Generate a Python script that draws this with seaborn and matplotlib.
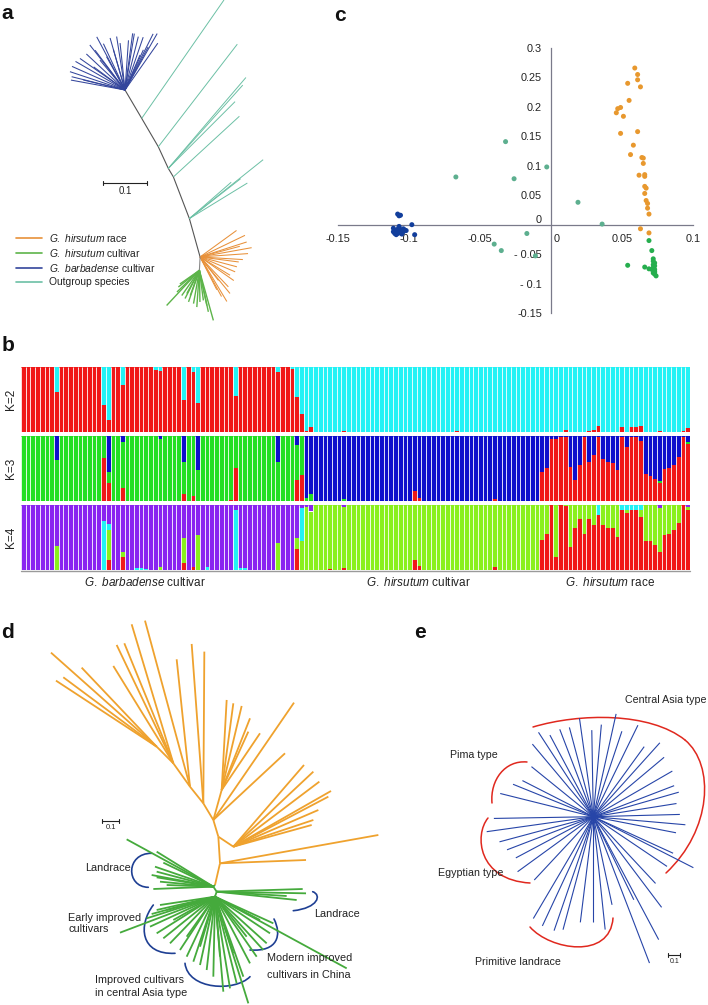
import numpy as np
import pandas as pd
import seaborn as sns
import matplotlib.pyplot as plt
import matplotlib.transforms as mtransforms
from matplotlib.collections import LineCollection
from matplotlib.path import Path
from matplotlib.patches import PathPatch

# ---------------- data ----------------
# panel a: unrooted tree (angles in degrees, branch lengths in substitutions/site)
A_BACKBONE_ANGLE = [-59.5, -59.7, -65.2, -59.2, -69.0, -74.4]
A_BACKBONE_LEN = [0.076, 0.076, 0.055, 0.023, 0.103, 0.092]
A_OUT_NODE = [1, 2, 3, 3, 3, 4, 5, 5, 5, 5]
A_OUT_ANGLE = [55.2, 52.4, 49.5, 48.2, 45.0, 42.6, 38.6, 31.5, 37.9, 41.0]
A_OUT_LEN = [0.333, 0.299, 0.276, 0.258, 0.218, 0.207, 0.218, 0.157, 0.150, 0.128]
A_BARB_ANGLE = [55, 60.3, 63.4, 61.7, 65.4, 66.8, 71, 76, 80.6, 82.3, 86, 96, 98.9, 106, 106,
                115, 118, 119, 127, 128, 130, 137, 143.6, 145, 150, 156, 161.6, 166, 166.5, 169.6]
A_BARB_LEN = [0.132, 0.150, 0.145, 0.113, 0.102, 0.088, 0.129, 0.127, 0.132, 0.132, 0.115, 0.109,
              0.125, 0.125, 0.097, 0.118, 0.139, 0.088, 0.115, 0.132, 0.090, 0.122, 0.090, 0.127,
              0.132, 0.134, 0.134, 0.127, 0.099, 0.127]
A_RACE_ANGLE = [36, 25.7, 17.8, 15, 10.2, 4, -3.5, -7.4, -15, -23, -31.4, -35, -46.6, -52, -50.7, -59, -61.6, -63]
A_RACE_LEN = [0.104, 0.115, 0.113, 0.095, 0.121, 0.111, 0.099, 0.090, 0.088, 0.088, 0.081, 0.095,
              0.095, 0.069, 0.109, 0.120, 0.104, 0.085]
A_CULT_STEM = (-93, 0.031)
A_CULT_ANGLE = [-133, -141.6, -145, -136, -125, -117, -118.5, -110, -109, -100, -94, -89, -82.4, -78, -77.8, -74.4]
A_CULT_LEN = [0.111, 0.062, 0.055, 0.072, 0.071, 0.073, 0.061, 0.062, 0.077, 0.078, 0.085, 0.073,
              0.070, 0.083, 0.098, 0.120]
A_LEGEND = ["$\\mathit{G.\\ hirsutum}$ race", "$\\mathit{G.\\ hirsutum}$ cultivar",
            "$\\mathit{G.\\ barbadense}$ cultivar", "Outgroup species"]

# panel c: PCA
C_RACE_X = [0.059, 0.061, 0.061, 0.063, 0.054, 0.055, 0.049, 0.047, 0.046, 0.051, 0.061, 0.049, 0.058,
            0.056, 0.064, 0.065, 0.065, 0.062, 0.066, 0.066, 0.066, 0.067, 0.066, 0.067, 0.068, 0.068,
            0.069, 0.063, 0.069]
C_RACE_Y = [0.266, 0.255, 0.246, 0.234, 0.240, 0.211, 0.199, 0.197, 0.190, 0.184, 0.158, 0.155, 0.135,
            0.119, 0.114, 0.113, 0.104, 0.084, 0.085, 0.082, 0.065, 0.062, 0.053, 0.041, 0.036, 0.028,
            0.018, -0.007, -0.014]
C_CULT_X = [0.069, 0.071, 0.054, 0.066, 0.069, 0.072, 0.072, 0.073, 0.072, 0.073, 0.072, 0.073, 0.073,
            0.072, 0.073, 0.074, 0.071, 0.073]
C_CULT_Y = [-0.027, -0.044, -0.069, -0.072, -0.075, -0.058, -0.062, -0.065, -0.068, -0.070, -0.073,
            -0.076, -0.079, -0.082, -0.084, -0.087, -0.076, -0.081]
C_OUT_X = [-0.032, -0.067, -0.026, -0.003, 0.019, 0.036, -0.017, -0.040, -0.035, -0.011]
C_OUT_Y = [0.141, 0.081, 0.078, 0.098, 0.038, 0.001, -0.015, -0.033, -0.044, -0.053]
C_BARB_X = [-0.108, -0.106, -0.107, -0.111, -0.110, -0.109, -0.108, -0.107, -0.106, -0.105, -0.104,
            -0.103, -0.110, -0.109, -0.108, -0.106, -0.104, -0.102, -0.098, -0.096, -0.111, -0.107, -0.105]
C_BARB_Y = [0.018, 0.016, 0.015, -0.006, -0.010, -0.013, -0.008, -0.005, -0.010, -0.012, -0.007,
            -0.009, -0.015, -0.017, -0.015, -0.014, -0.012, -0.010, 0.000, -0.017, -0.012, -0.003, -0.016]
C_XTICKS = [-0.15, -0.1, -0.05, 0, 0.05, 0.1]
C_XTICKLABELS = ["-0.15", "-0.1", "-0.05", "0", "0.05", "0.1"]
C_YTICKS = [-0.15, -0.1, -0.05, 0, 0.05, 0.1, 0.15, 0.2, 0.25, 0.3]
C_YTICKLABELS = ["-0.15", "- 0.1", "- 0.05", "0", "0.05", "0.1", "0.15", "0.2", "0.25", "0.3"]

# panel b: admixture proportions (G. barbadense cultivar / G. hirsutum cultivar / G. hirsutum race)
K2_RED_BARB = [1, 1, 1, 1, 1, 1, 1, 0.62, 1, 1,
               1, 1, 1, 1, 1, 1, 1, 0.41, 0.18, 1,
               1, 0.72, 1, 1, 1, 1, 1, 1, 0.95, 0.94,
               1, 1, 1, 1, 0.49, 1, 0.93, 0.45, 1, 1,
               1, 1, 1, 1, 1, 0.55, 1, 1, 1, 1,
               1, 1, 1, 1, 0.93, 1, 1, 0.97, 0.54, 0.27]
K2_RED_CULT = [0.02, 0.08, 0, 0, 0, 0, 0, 0, 0.02, 0,
               0, 0, 0, 0, 0, 0, 0, 0, 0, 0,
               0, 0, 0, 0, 0, 0, 0, 0, 0, 0,
               0, 0, 0.01, 0, 0, 0, 0, 0, 0, 0,
               0, 0, 0, 0, 0, 0, 0, 0, 0, 0]
K2_RED_RACE = [0, 0, 0, 0, 0, 0.03, 0, 0, 0, 0,
               0.02, 0.03, 0.09, 0, 0, 0, 0, 0.08, 0, 0.07,
               0.08, 0.09, 0, 0, 0, 0.02, 0, 0, 0, 0,
               0.02, 0.06]

K3_RED_BARB = [0, 0, 0, 0, 0, 0, 0, 0, 0, 0,
               0, 0, 0, 0, 0, 0, 0, 0.66, 0.27, 0,
               0, 0.20, 0, 0, 0, 0, 0, 0, 0, 0,
               0, 0, 0, 0, 0.10, 0, 0.07, 0, 0, 0,
               0, 0, 0, 0, 0.02, 0.50, 0, 0, 0, 0,
               0, 0, 0, 0, 0, 0, 0, 0, 0.32, 0.40]
K3_BLUE_BARB = [0, 0, 0, 0, 0, 0, 0, 0.37, 0, 0,
                0, 0, 0, 0, 0, 0, 0, 0, 0.55, 0,
                0, 0.09, 0, 0, 0, 0, 0, 0, 0, 0.05,
                0, 0, 0, 0, 0.40, 0, 0, 0.52, 0, 0,
                0, 0, 0, 0, 0, 0, 0, 0, 0, 0,
                0, 0, 0, 0, 0.40, 0, 0, 0, 0.14, 0]
K3_RED_CULT = [0, 0, 0, 0, 0, 0, 0, 0, 0, 0,
               0, 0, 0, 0, 0, 0, 0, 0, 0, 0,
               0, 0, 0, 0.15, 0.05, 0, 0, 0, 0, 0,
               0, 0, 0, 0, 0, 0, 0, 0, 0, 0,
               0.03, 0, 0, 0, 0, 0, 0, 0, 0, 0]
K3_BLUE_CULT = [0.95, 0.90, 1, 1, 1, 1, 1, 1, 0.97, 1,
                1, 1, 1, 1, 1, 1, 1, 1, 1, 1,
                1, 1, 1, 0.85, 0.95, 1, 1, 1, 1, 1,
                1, 1, 1, 1, 1, 1, 1, 1, 1, 1,
                0.97, 1, 1, 1, 1, 1, 1, 1, 1, 1]
K3_RED_RACE = [0.45, 0.50, 0.95, 0.96, 0.99, 0.98, 0.53, 0.32, 0.55, 0.99,
               0.60, 0.70, 0.99, 0.64, 0.60, 0.58, 0.47, 0.99, 0.83, 0.99,
               0.99, 0.93, 0.41, 0.39, 0.34, 0.27, 0.49, 0.50, 0.56, 0.68,
               0.99, 0.88]
K3_BLUE_RACE = [0.55, 0.50, 0.05, 0.04, 0.01, 0.02, 0.47, 0.68, 0.45, 0.01,
                0.40, 0.30, 0.01, 0.36, 0.40, 0.42, 0.53, 0.01, 0.17, 0.01,
                0.01, 0.07, 0.59, 0.61, 0.66, 0.70, 0.51, 0.50, 0.44, 0.32,
                0.01, 0.10]

K4_RED_BARB = [0, 0, 0, 0, 0, 0, 0, 0, 0, 0,
               0, 0, 0, 0, 0, 0, 0, 0, 0.16, 0,
               0, 0.20, 0, 0, 0, 0, 0, 0, 0, 0,
               0, 0, 0, 0, 0.11, 0, 0.05, 0, 0, 0,
               0, 0, 0, 0, 0, 0, 0, 0, 0, 0,
               0, 0, 0, 0, 0, 0, 0, 0, 0.32, 0]
K4_LIME_BARB = [0, 0, 0, 0, 0, 0, 0, 0.37, 0, 0,
                0, 0, 0, 0, 0, 0, 0, 0, 0.45, 0,
                0, 0.08, 0, 0, 0, 0, 0, 0, 0, 0.05,
                0, 0, 0, 0, 0.38, 0, 0, 0.54, 0, 0,
                0, 0, 0, 0, 0, 0, 0, 0, 0, 0,
                0, 0, 0, 0, 0.42, 0, 0, 0, 0.17, 0.45]
K4_CYAN_BARB = [0, 0, 0, 0, 0, 0, 0, 0, 0, 0,
                0, 0, 0, 0, 0, 0, 0, 0.75, 0.10, 0,
                0, 0, 0, 0, 0.03, 0.03, 0.02, 0, 0, 0,
                0, 0, 0, 0, 0, 0, 0, 0, 0, 0.05,
                0, 0, 0, 0, 0, 0.92, 0.03, 0.03, 0, 0,
                0, 0, 0, 0, 0, 0, 0, 0, 0, 0.50]
K4_RED_CULT = [0, 0, 0, 0, 0, 0.02, 0, 0, 0.03, 0,
               0, 0, 0, 0, 0, 0, 0, 0, 0, 0,
               0, 0, 0, 0.15, 0.06, 0, 0, 0, 0, 0,
               0, 0, 0, 0, 0, 0, 0, 0, 0, 0,
               0.05, 0, 0, 0, 0, 0, 0, 0, 0, 0]
K4_LIME_CULT = [0.97, 0.90, 1, 1, 1, 0.98, 1, 1, 0.94, 1,
                1, 1, 1, 1, 1, 1, 1, 1, 1, 1,
                1, 1, 1, 0.85, 0.94, 1, 1, 1, 1, 1,
                1, 1, 1, 1, 1, 1, 1, 1, 1, 1,
                0.95, 1, 1, 1, 1, 1, 1, 1, 1, 1]
K4_CYAN_CULT = [0, 0, 0, 0, 0, 0, 0, 0, 0, 0,
                0, 0, 0, 0, 0, 0, 0, 0, 0, 0,
                0, 0, 0, 0, 0, 0, 0, 0, 0, 0,
                0, 0, 0, 0, 0, 0, 0, 0, 0, 0,
                0, 0, 0, 0, 0, 0, 0, 0, 0, 0]
K4_RED_RACE = [0.46, 0.56, 1.0, 0.20, 1.0, 0.98, 0.36, 0.64, 0.79, 0.56,
               0.79, 0.69, 0.85, 0.69, 0.64, 0.64, 0.51, 0.93, 0.87, 0.92,
               0.92, 0.82, 0.44, 0.44, 0.38, 0.27, 0.54, 0.55, 0.62, 0.73,
               1.0, 0.92]
K4_LIME_RACE = [0.54, 0.44, 0, 0.80, 0, 0.02, 0.64, 0.36, 0.21, 0.44,
                0.21, 0.31, 0, 0.31, 0.36, 0.36, 0.49, 0, 0.06, 0,
                0, 0.10, 0.56, 0.56, 0.62, 0.69, 0.46, 0.45, 0.38, 0.27,
                0, 0.05]
K4_CYAN_RACE = [0, 0, 0, 0, 0, 0, 0, 0, 0, 0,
                0, 0, 0.15, 0, 0, 0, 0, 0.07, 0.07, 0.08,
                0.08, 0.08, 0, 0, 0, 0, 0, 0, 0, 0,
                0, 0]
B_GROUPS = ["$\\mathit{G.\\ barbadense}$ cultivar", "$\\mathit{G.\\ hirsutum}$ cultivar",
            "$\\mathit{G.\\ hirsutum}$ race"]
B_K_LABELS = ["K=2", "K=3", "K=4"]

# panel d: tree nodes (substitutions/site, relative to the root)
D_NODE_PARENT = [-1, 0, 1, 2, 3, 4, 5, 6, 3, 2, 0, 10, 11]
D_NODE_U = [0, 0.03, 0.02, -0.01, -0.07, -0.15, -0.25, -0.35, 0.04, 0.11, -0.01, 0.01, 0.0]
D_NODE_V = [0, 0.13, 0.29, 0.39, 0.49, 0.59, 0.73, 0.83, 0.57, 0.23, -0.01, -0.04, -0.07]
D_NODE_GREEN = [False] * 10 + [True] * 3
D_ORANGE_PARENT = [7, 7, 7, 7, 6, 6, 6, 6, 5, 5, 4, 4, 8, 8, 8, 8, 8, 8, 3, 3, 9, 9, 9, 9, 9, 9, 9, 9, 1, 1]
D_ORANGE_U = [-0.984, -0.954, -0.91, -0.80, -0.59, -0.544, -0.61, -0.50, -0.42, -0.23, -0.14, -0.064,
              0.07, 0.11, 0.16, 0.21, 0.20, 0.27, 0.42, 0.474, 0.534, 0.59, 0.626, 0.696, 0.68, 0.62,
              0.59, 0.58, 0.98, 0.546]
D_ORANGE_V = [1.394, 1.226, 1.246, 1.304, 1.44, 1.45, 1.314, 1.564, 1.586, 1.354, 1.446, 1.40,
              1.11, 1.09, 1.074, 1.0, 0.92, 0.91, 0.79, 1.094, 0.72, 0.68, 0.62, 0.564, 0.53, 0.45,
              0.39, 0.36, 0.30, 0.15]
D_GREEN_PARENT = [10] * 10 + [11] * 4 + [12] * 35
D_GREEN_U = [-0.53, -0.35, -0.31, -0.36, -0.35, -0.38, -0.35, -0.33, -0.29, -0.37,
             0.526, 0.546, 0.49, 0.43,
             -0.33, -0.35, -0.38, -0.41, -0.57, -0.39, -0.35, -0.31, -0.27, -0.21, -0.17, -0.13,
             -0.09, -0.05, -0.01, 0.05, 0.09, 0.13, 0.17, 0.20, 0.21, 0.25, 0.29, 0.31, 0.33, 0.35,
             0.27, 0.79, -0.29, -0.25, -0.17, -0.09, 0.03, 0.11, 0.19]
D_GREEN_V = [0.274, 0.20, 0.134, 0.11, 0.08, 0.06, 0.046, 0.02, 0.0, -0.024,
             -0.024, -0.05, -0.09, -0.066,
             -0.12, -0.15, -0.174, -0.20, -0.286, -0.25, -0.29, -0.32, -0.35, -0.39, -0.43, -0.46,
             -0.48, -0.51, -0.55, -0.64, -0.62, -0.59, -0.55, -0.71, -0.47, -0.43, -0.39, -0.35,
             -0.29, -0.23, -0.21, -0.50, -0.15, -0.21, -0.31, -0.37, -0.43, -0.41, -0.31]
D_LABELS = ["Landrace", "Early improved\ncultivars", "Landrace", "Modern improved\ncultivars in China",
            "Improved cultivars\nin central Asia type"]

# panel e: star-like tree (angle in degrees, branch length)
E_ANGLE = [105, 111, 118, 123, 130, 141, 153, 158, 166, -179, -172, -165, -159, -152, -144, -133,
           -120.5, -115, -109, -105, -97, -90, -84, -78, -69, -64, -62, -53, -47, -34, -27, -24.6,
           -11, -5, 1.5, 9, 16, 21, 30, 40, 48, 54, 64, 71.5, 77.5, 85, 91, 98]
E_LEN = [0.79, 0.80, 0.79, 0.86, 0.81, 0.68, 0.68, 0.74, 0.82, 0.85, 0.92, 0.83, 0.79, 0.75, 0.80,
         0.74, 1.01, 1.03, 1.03, 1.00, 0.91, 0.90, 0.97, 0.77, 1.34, 0.79, 1.19, 0.97, 0.78, 0.76,
         0.96, 0.75, 0.72, 0.79, 0.74, 0.72, 0.76, 0.74, 0.78, 0.79, 0.85, 0.74, 0.87, 0.77, 0.90,
         0.79, 0.74, 0.85]
E_LABELS = ["Central Asia type", "Pima type", "Egyptian type", "Primitive landrace"]

# ---------------- style ----------------
sns.set_style("white")
plt.rcParams["font.family"] = ["Liberation Sans", "DejaVu Sans"]
plt.rcParams["mathtext.fontset"] = "custom"
plt.rcParams["mathtext.rm"] = "Liberation Sans"
plt.rcParams["mathtext.it"] = "Liberation Sans:italic"

ORANGE_A, GREEN_A, NAVY_A, TEAL_A = "#E8913A", "#5DB44A", "#34469C", "#6CC0A5"
W, H = 708, 1005


def fig_box(x0, y0, x1, y1):
    return [x0 / W, 1 - y1 / H, (x1 - x0) / W, (y1 - y0) / H]


def polar(origin, angles, lengths):
    a = np.radians(np.asarray(angles, dtype=float))
    ln = np.asarray(lengths, dtype=float)
    return np.column_stack([origin[0] + ln * np.cos(a), origin[1] + ln * np.sin(a)])


def to_px(pts, anchor, scale):
    pts = np.atleast_2d(pts)
    return np.column_stack([anchor[0] + pts[:, 0] * scale, anchor[1] - pts[:, 1] * scale])


def star(ax, origin, tips, anchor, scale, color, lw):
    o = to_px(origin, anchor, scale)[0]
    segs = [[o, p] for p in to_px(tips, anchor, scale)]
    ax.add_collection(LineCollection(segs, colors=color, linewidths=lw))


def bracket(ax, pts, color, lw):
    path = Path(pts, [Path.MOVETO] + [Path.CURVE4] * (len(pts) - 1))
    ax.add_patch(PathPatch(path, fill=False, edgecolor=color, linewidth=lw, capstyle="round"))


def scale_bar(ax, x0, y, length, fs):
    ax.plot([x0, x0 + length], [y, y], color="#222", lw=0.8)
    ax.plot([x0, x0], [y - 2, y + 2], color="#222", lw=0.8)
    ax.plot([x0 + length, x0 + length], [y - 2, y + 2], color="#222", lw=0.8)
    ax.text(x0 + length / 2, y + 3, "0.1", ha="center", va="top", fontsize=fs, color="#222")


fig = plt.figure(figsize=(W / 100, H / 100), dpi=100)
canvas = fig.add_axes([0, 0, 1, 1])
canvas.set_xlim(0, W)
canvas.set_ylim(H, 0)
canvas.axis("off")

# ---------------- panel a ----------------
a_anchor, a_scale = (125, 90), 433.0
nodes = [np.array([0.0, 0.0])]
for ang, ln in zip(A_BACKBONE_ANGLE, A_BACKBONE_LEN):
    nodes.append(polar(nodes[-1], [ang], [ln])[0])
bb = to_px(np.array(nodes), a_anchor, a_scale)
canvas.plot(bb[:, 0], bb[:, 1], color="#555", lw=0.8)
for n, ang, ln in zip(A_OUT_NODE, A_OUT_ANGLE, A_OUT_LEN):
    star(canvas, nodes[n], polar(nodes[n], [ang], [ln]), a_anchor, a_scale, TEAL_A, 0.7)
star(canvas, nodes[0], polar(nodes[0], A_BARB_ANGLE, A_BARB_LEN), a_anchor, a_scale, NAVY_A, 0.75)
star(canvas, nodes[-1], polar(nodes[-1], A_RACE_ANGLE, A_RACE_LEN), a_anchor, a_scale, ORANGE_A, 0.75)
c0 = polar(nodes[-1], [A_CULT_STEM[0]], [A_CULT_STEM[1]])[0]
stem = to_px(np.array([nodes[-1], c0]), a_anchor, a_scale)
canvas.plot(stem[:, 0], stem[:, 1], color="#888", lw=0.8)
star(canvas, c0, polar(c0, A_CULT_ANGLE, A_CULT_LEN), a_anchor, a_scale, GREEN_A, 1.0)
scale_bar(canvas, 103.3, 183.3, 0.1 * a_scale, 7)
for i, (lab, col) in enumerate(zip(A_LEGEND, [ORANGE_A, GREEN_A, NAVY_A, TEAL_A])):
    y = 238.3 + i * 14.7
    canvas.plot([16, 42], [y, y], color=col, lw=1.2)
    canvas.text(49, y, lab, va="center", ha="left", fontsize=7.4, color="#222")

# ---------------- panel c ----------------
pca = pd.concat([
    pd.DataFrame({"pc1": C_RACE_X, "pc2": C_RACE_Y, "group": "race"}),
    pd.DataFrame({"pc1": C_CULT_X, "pc2": C_CULT_Y, "group": "cultivar"}),
    pd.DataFrame({"pc1": C_OUT_X, "pc2": C_OUT_Y, "group": "outgroup"}),
    pd.DataFrame({"pc1": C_BARB_X, "pc2": C_BARB_Y, "group": "barbadense"}),
])
axc = fig.add_axes(fig_box(338, 48, 693, 313))
axc.patch.set_alpha(0)
sns.scatterplot(data=pca, x="pc1", y="pc2", hue="group", ax=axc, s=13, edgecolor="none", legend=False,
                palette={"race": "#E8982E", "cultivar": "#26AE4E", "outgroup": "#5DAF8F", "barbadense": "#123E9C"},
                zorder=3)
axc.set_xlim(-0.15, 0.1)
axc.set_ylim(-0.15, 0.3)
axc.set_xlabel("")
axc.set_ylabel("")
for side in ["top", "right"]:
    axc.spines[side].set_visible(False)
for side in ["left", "bottom"]:
    axc.spines[side].set_position(("data", 0))
    axc.spines[side].set_color("#7a7a8a")
    axc.spines[side].set_linewidth(0.9)
axc.set_xticks(C_XTICKS)
axc.set_xticklabels(C_XTICKLABELS)
axc.set_yticks(C_YTICKS)
axc.set_yticklabels(C_YTICKLABELS)
axc.tick_params(labelsize=7.8, colors="#7a7a8a", labelcolor="#222", length=3, width=0.8, direction="out")
# nudge the two "0" labels off the axis lines, as in the original figure
xzero = axc.get_xticklabels()[C_XTICKS.index(0)]
xzero.set_transform(xzero.get_transform() + mtransforms.ScaledTranslation(6 / 100, 0, fig.dpi_scale_trans))
yzero = axc.get_yticklabels()[C_YTICKS.index(0)]
yzero.set_transform(yzero.get_transform() + mtransforms.ScaledTranslation(0, 6 / 100, fig.dpi_scale_trans))

# ---------------- panel b ----------------
K2_RED = np.array(K2_RED_BARB + K2_RED_CULT + K2_RED_RACE, dtype=float)
K3_RED = np.array(K3_RED_BARB + K3_RED_CULT + K3_RED_RACE, dtype=float)
K3_BLUE = np.array(K3_BLUE_BARB + K3_BLUE_CULT + K3_BLUE_RACE, dtype=float)
K4_RED = np.array(K4_RED_BARB + K4_RED_CULT + K4_RED_RACE, dtype=float)
K4_LIME = np.array(K4_LIME_BARB + K4_LIME_CULT + K4_LIME_RACE, dtype=float)
K4_CYAN = np.array(K4_CYAN_BARB + K4_CYAN_CULT + K4_CYAN_RACE, dtype=float)
n_bar = len(K2_RED)
RED, CYAN, GREEN, BLUE, PURPLE, LIME = "#F01818", "#22F2F5", "#22DF22", "#0E0ECC", "#8A24F0", "#8AF01C"
rows = [
    ([K2_RED, 1 - K2_RED], [RED, CYAN]),
    ([K3_RED, np.clip(1 - K3_RED - K3_BLUE, 0, 1), K3_BLUE], [RED, GREEN, BLUE]),
    ([K4_RED, K4_LIME, K4_CYAN, np.clip(1 - K4_RED - K4_LIME - K4_CYAN, 0, 1)], [RED, LIME, CYAN, PURPLE]),
]
row_y = [(367, 432), (436, 501), (505, 570)]
x = np.arange(n_bar)
for (comps, cols), (y0, y1), klab in zip(rows, row_y, B_K_LABELS):
    axb = fig.add_axes(fig_box(21, y0, 690, y1))
    bottom = np.zeros(n_bar)
    for vals, col in zip(comps, cols):
        axb.bar(x, vals, bottom=bottom, width=1.0, color=col, linewidth=0)
        bottom = bottom + vals
    axb.vlines(np.arange(n_bar + 1) - 0.5, 0, 1, color="white", lw=0.6)
    axb.set_xlim(-0.5, n_bar - 0.5)
    axb.set_ylim(0, 1)
    axb.axis("off")
    canvas.text(11, (y0 + y1) / 2, klab, rotation=90, ha="center", va="center", fontsize=8.5, color="#222")
canvas.plot([21, 690], [571, 571], color="#9a9a9a", lw=1.0)
for lab, xc in zip(B_GROUPS, [145, 418, 610]):
    canvas.text(xc, 582, lab, ha="center", va="center", fontsize=8.5, color="#222")

# ---------------- panel d ----------------
d_anchor, d_scale = (215, 885), 166.7
d_nodes = np.column_stack([D_NODE_U, D_NODE_V])
D_OR, D_GR = "#EFA22E", "#45AA3C"
for i, p in enumerate(D_NODE_PARENT):
    if p < 0:
        continue
    seg = to_px(np.array([d_nodes[p], d_nodes[i]]), d_anchor, d_scale)
    canvas.plot(seg[:, 0], seg[:, 1], color=D_GR if D_NODE_GREEN[i] else D_OR, lw=1.3,
                solid_capstyle="butt")
for par, u, v in zip(D_ORANGE_PARENT, D_ORANGE_U, D_ORANGE_V):
    star(canvas, d_nodes[par], np.array([[u, v]]), d_anchor, d_scale, D_OR, 1.3)
for par, u, v in zip(D_GREEN_PARENT, D_GREEN_U, D_GREEN_V):
    star(canvas, d_nodes[par], np.array([[u, v]]), d_anchor, d_scale, D_GR, 1.3)
scale_bar(canvas, 102.3, 820.7, 0.1 * d_scale, 5.5)
NAVY_D = "#1E3F93"
bracket(canvas, [(151.7, 853.3), (125.6, 853), (125.6, 887), (148.3, 887.3)], NAVY_D, 1.2)
bracket(canvas, [(312.7, 891.7), (322, 895), (318, 908), (293.3, 910.7)], NAVY_D, 1.2)
bracket(canvas, [(153.3, 905), (138, 925), (140, 955), (175, 953.3)], NAVY_D, 1.2)
bracket(canvas, [(274, 919), (282, 935), (278, 952), (250, 950)], NAVY_D, 1.2)
bracket(canvas, [(185, 963.3), (188, 990), (235, 992), (250, 976.7)], NAVY_D, 1.2)
d_pos = [(85.5, 868, 1.2), (68.3, 923.5, 1.2), (314, 914.3, 1.2), (266.7, 966.7, 1.9), (95, 986.5, 1.3)]
for lab, (tx, ty, ls) in zip(D_LABELS, d_pos):
    canvas.text(tx, ty, lab, ha="left", va="center", fontsize=7.8, color="#222", linespacing=ls)

# ---------------- panel e ----------------
e_anchor, e_scale = (593.3, 816.7), 117.0
star(canvas, (0.0, 0.0), polar((0.0, 0.0), E_ANGLE, E_LEN), e_anchor, e_scale, "#2745A8", 0.8)
RED_E = "#E0281E"
bracket(canvas, [(533, 727), (580, 713), (650, 712), (685, 740)], RED_E, 1.1)
bracket(canvas, [(685, 740), (715, 765), (712, 830), (666, 873)], RED_E, 1.1)
bracket(canvas, [(527, 762), (505, 760), (490, 780), (492, 803)], RED_E, 1.1)
bracket(canvas, [(488, 818), (474, 835), (478, 880), (530, 883)], RED_E, 1.1)
bracket(canvas, [(530, 927), (550, 950), (610, 960), (613, 918)], RED_E, 1.1)
e_pos = [(625, 700), (450, 755), (438, 873), (475, 962)]
for lab, (tx, ty) in zip(E_LABELS, e_pos):
    canvas.text(tx, ty, lab, ha="left", va="center", fontsize=7.7, color="#222")
scale_bar(canvas, 668.3, 955, 0.1 * e_scale, 5)

# ---------------- panel letters ----------------
for lab, (tx, ty) in zip("abcde", [(7, 13), (8, 345), (340, 15), (7, 632), (420, 632)]):
    canvas.text(tx, ty, lab, ha="center", va="center", fontsize=15, fontweight="bold", color="#111")

fig.savefig("out.png", dpi=100)
